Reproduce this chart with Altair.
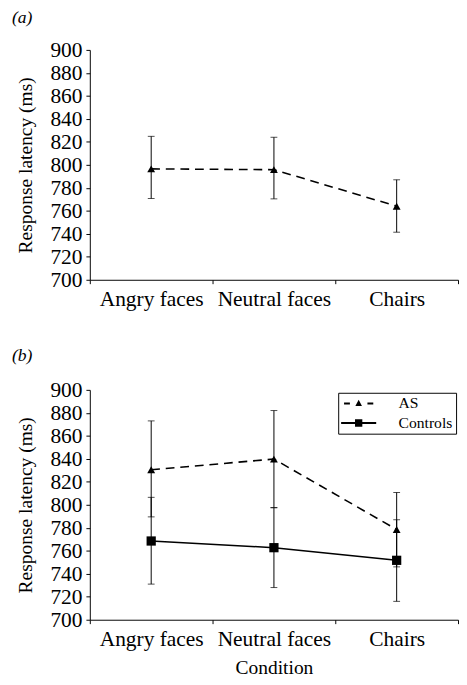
import altair as alt
import pandas as pd

categories = ["Angry faces", "Neutral faces", "Chairs"]
groups = ["AS", "Controls"]
y_ticks = list(range(700, 901, 20))

# panel (a)
a_mean = [796.5, 795.8, 764.0]
a_upper = [824.8, 824.0, 787.0]
a_lower = [770.7, 770.4, 741.4]

# panel (b)
as_mean = [830.5, 839.8, 778.5]
as_upper = [873.0, 882.0, 810.7]
as_lower = [789.5, 797.5, 746.0]
ctrl_mean = [768.5, 762.7, 751.7]
ctrl_upper = [806.5, 797.5, 787.0]
ctrl_lower = [731.0, 728.0, 716.0]

FONT = "Liberation Serif"
# legend glyphs (unit = 7.5 px at symbolSize 225)
PATH_AS = ("M-2,-0.13H-1.2V0.13H-2Z "
           "M-0.45,0.35L0,-0.5L0.45,0.35Z "
           "M1.2,-0.13H2V0.13H1.2Z")
PATH_CTRL = "M-2.4,-0.13H2.4V0.13H-2.4Z M-0.5,-0.5H0.5V0.5H-0.5Z"

df_a = pd.DataFrame({"condition": categories, "mean": a_mean,
                     "upper": a_upper, "lower": a_lower})
df_b = pd.DataFrame({
    "condition": categories * 2,
    "group": ["AS"] * 3 + ["Controls"] * 3,
    "mean": as_mean + ctrl_mean,
    "upper": as_upper + ctrl_upper,
    "lower": as_lower + ctrl_lower,
})


def x_enc(title):
    return alt.X("condition:N", sort=categories,
                 scale=alt.Scale(paddingInner=0, paddingOuter=0),
                 axis=alt.Axis(tickBand="extent", labelAngle=0, title=title,
                               labelPadding=5, titlePadding=9))


def y_enc(field="mean"):
    return alt.Y(f"{field}:Q",
                 scale=alt.Scale(domain=[700, 900], nice=False, zero=False),
                 axis=alt.Axis(values=y_ticks, title="Response latency (ms)",
                               labelPadding=4, titlePadding=15))


def errbars(base, x):
    rule = base.mark_rule(color="black", strokeWidth=1).encode(
        x=x, y=y_enc("lower"), y2="upper:Q")
    cap_hi = base.mark_tick(color="black", size=7, thickness=1).encode(
        x=x, y=y_enc("upper"))
    cap_lo = base.mark_tick(color="black", size=7, thickness=1).encode(
        x=x, y=y_enc("lower"))
    return rule + cap_hi + cap_lo


W = 378

# ---- panel a
base_a = alt.Chart(df_a)
xa = x_enc(None)
line_a = base_a.mark_line(color="black", strokeWidth=1.6, strokeDash=[9, 6]).encode(
    x=xa, y=y_enc())
pts_a = base_a.mark_point(shape="triangle-up", filled=True, color="black",
                          size=65, opacity=1).encode(x=xa, y=y_enc())
panel_a = alt.layer(errbars(base_a, xa), line_a, pts_a).properties(
    width=W, height=236,
    title=alt.Title("(a)", anchor="start", frame="bounds", fontStyle="italic",
                    fontSize=18, font=FONT, fontWeight="normal", offset=13, dx=-4,
                    color="black"))

# ---- panel b
base_b = alt.Chart(df_b)
as_b = base_b.transform_filter(alt.datum.group == "AS")
ctrl_b = base_b.transform_filter(alt.datum.group == "Controls")
xb = x_enc("Condition")
line_as = as_b.mark_line(color="black", strokeWidth=1.6, strokeDash=[9, 6]).encode(
    x=xb, y=y_enc())
line_ctrl = ctrl_b.mark_line(color="black", strokeWidth=1.6).encode(
    x=xb, y=y_enc())
pts_as = as_b.mark_point(
    shape="triangle-up", filled=True, color="black", size=65, opacity=1).encode(
    x=xb, y=y_enc())
pts_ctrl = ctrl_b.mark_point(
    shape="square", filled=True, color="black", size=90, opacity=1).encode(
    x=xb, y=y_enc())
legend_layer = base_b.transform_calculate(series="datum.group").mark_point(
    filled=True, color="black", opacity=0).encode(
    x=xb, y=y_enc(),
    shape=alt.Shape("series:N",
                    scale=alt.Scale(domain=groups, range=[PATH_AS, PATH_CTRL]),
                    legend=alt.Legend(title=None, orient="none", legendX=255, legendY=3,
                                      symbolSize=225, symbolOpacity=1,
                                      symbolStrokeWidth=0, symbolFillColor="black",
                                      symbolOffset=10, rowPadding=4, padding=3,
                                      labelOffset=33, labelFont=FONT, labelFontSize=16,
                                      labelColor="black", strokeColor="black",
                                      fillColor="white")))
panel_b = alt.layer(errbars(base_b, xb), line_as, line_ctrl, pts_as, pts_ctrl,
                    legend_layer).properties(
    width=W, height=236,
    title=alt.Title("(b)", anchor="start", frame="bounds", fontStyle="italic",
                    fontSize=18, font=FONT, fontWeight="normal", offset=15, dx=-4,
                    color="black"))

chart = alt.vconcat(panel_a, panel_b, spacing=39).properties(
    padding={"left": 4, "top": -8, "right": 0, "bottom": 0}
).resolve_scale(shape="independent").configure_view(
    stroke=None
).configure_axis(
    labelFont=FONT, titleFont=FONT, labelFontSize=22, titleFontSize=20,
    titleFontWeight="normal", labelColor="black", titleColor="black",
    domainColor="black", tickColor="black", tickSize=4, grid=False,
)

chart.save("out.html", embed_options={"renderer": "svg", "actions": False})
